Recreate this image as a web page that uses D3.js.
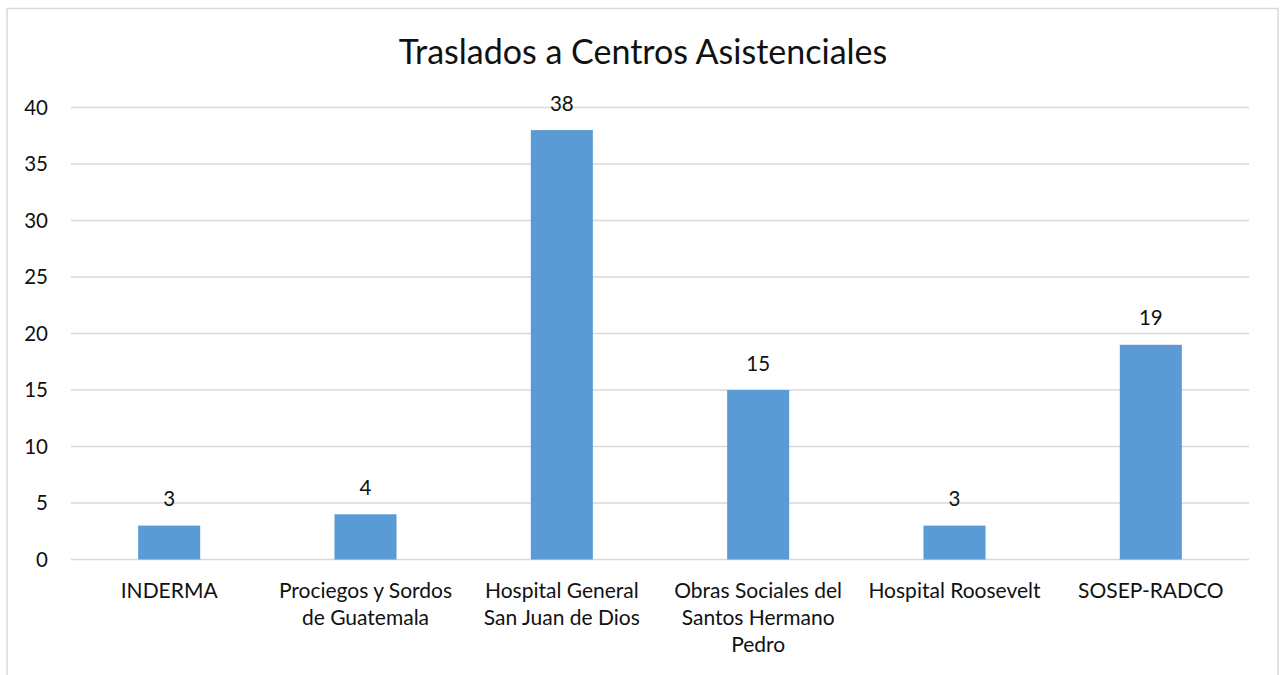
<!DOCTYPE html>
<html>
<head>
<meta charset="utf-8">
<script src="https://cdn.jsdelivr.net/npm/d3@7"></script>
<style>
  body { margin: 0; background: #fff; }
  text { font-family: Lato, "Open Sans", sans-serif; fill: #111; }
</style>
</head>
<body>
<svg id="chart" width="1282" height="675"></svg>
<script>
"use strict";

// Data
var categories = ["INDERMA", "Prociegos y Sordos de Guatemala", "Hospital General San Juan de Dios",
  "Obras Sociales del Santos Hermano Pedro", "Hospital Roosevelt", "SOSEP-RADCO"];
var tickLines = [["INDERMA"], ["Prociegos y Sordos", "de Guatemala"], ["Hospital General", "San Juan de Dios"],
  ["Obras Sociales del", "Santos Hermano", "Pedro"], ["Hospital Roosevelt"], ["SOSEP-RADCO"]];
var values = [3, 4, 38, 15, 3, 19];
var yTicks = [0, 5, 10, 15, 20, 25, 30, 35, 40];
var title = "Traslados a Centros Asistenciales";

var svg = d3.select("#chart");

// chart frame
svg.append("rect")
  .attr("x", 7).attr("y", 8.5)
  .attr("width", 1271).attr("height", 700)
  .attr("fill", "none").attr("stroke", "#d9d9d9").attr("stroke-width", 1.5);

var x = d3.scaleBand().domain(categories).range([71, 1249])
  .paddingInner(0.684).paddingOuter(0.342);
var y = d3.scaleLinear().domain([0, 40]).range([559.5, 107.5]);

// gridlines
svg.append("g").selectAll("line").data(yTicks).join("line")
  .attr("x1", 71).attr("x2", 1249)
  .attr("y1", d => y(d)).attr("y2", d => y(d))
  .attr("stroke", "#d9d9d9").attr("stroke-width", 1.3);

// y labels
svg.append("g").selectAll("text").data(yTicks).join("text")
  .attr("x", 48).attr("y", d => y(d))
  .attr("dy", "0.35em")
  .attr("text-anchor", "end")
  .style("font-size", "20.5px")
  .text(d => d);

// bars
svg.append("g").selectAll("rect").data(values).join("rect")
  .attr("x", (d, i) => x(categories[i]))
  .attr("y", d => y(d))
  .attr("width", x.bandwidth())
  .attr("height", d => y(0) - y(d))
  .attr("fill", "#5b9bd5");

// value labels
svg.append("g").selectAll("text").data(values).join("text")
  .attr("x", (d, i) => x(categories[i]) + x.bandwidth() / 2)
  .attr("y", d => y(d) - 19.5)
  .attr("text-anchor", "middle")
  .style("font-size", "20.5px")
  .text(d => d);

// category labels
var lab = svg.append("g").selectAll("text").data(tickLines).join("text")
  .attr("text-anchor", "middle")
  .style("font-size", "21px");
lab.each(function(lines, i) {
  var cx = x(categories[i]) + x.bandwidth() / 2;
  d3.select(this).selectAll("tspan").data(lines).join("tspan")
    .attr("x", cx)
    .attr("y", (d, j) => 598 + j * 27.2)
    .text(d => d);
});

// title
svg.append("text")
  .attr("x", 643).attr("y", 64)
  .attr("text-anchor", "middle")
  .style("font-size", "34px")
  .text(title);
</script>
</body>
</html>
